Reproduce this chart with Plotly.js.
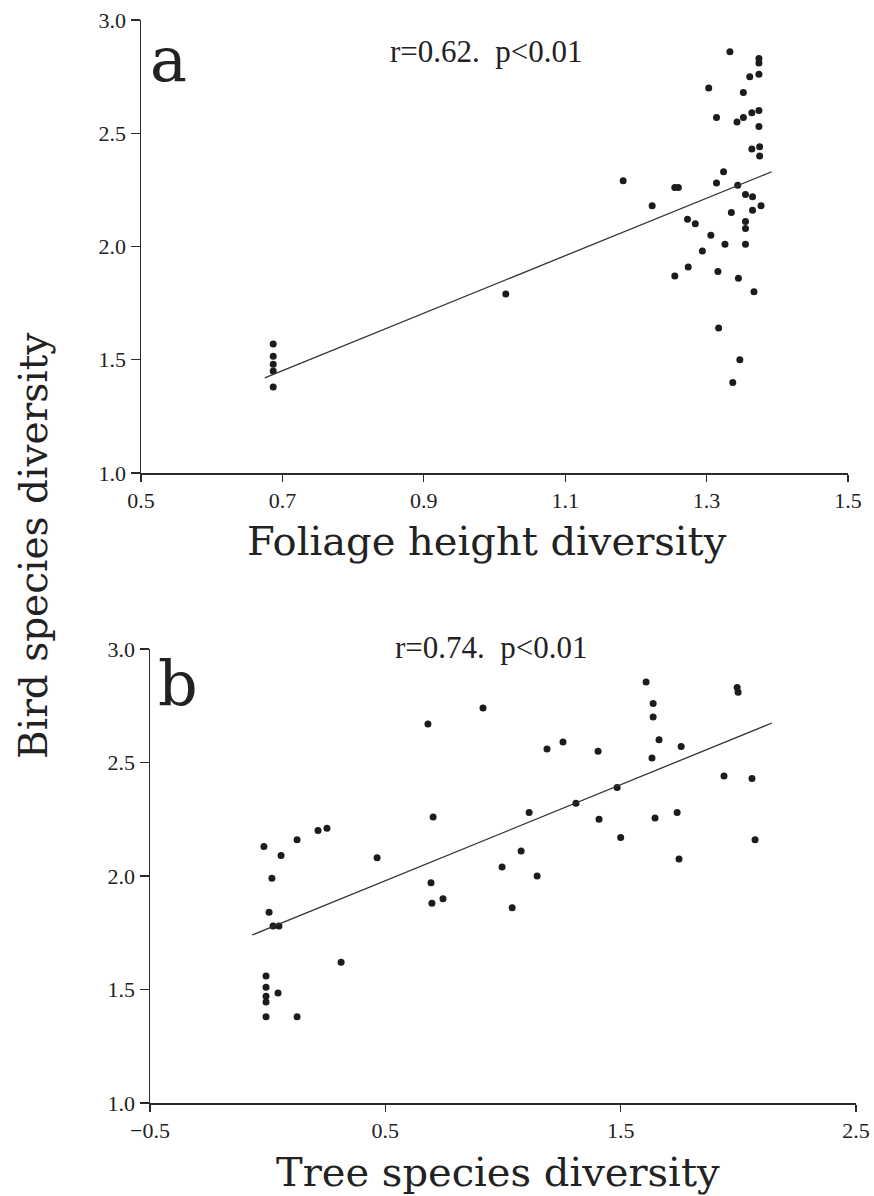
<!DOCTYPE html>
<html>
<head>
<meta charset="utf-8">
<script src="https://cdn.plot.ly/plotly-3.0.1.min.js"></script>
<style>
  html, body { margin: 0; padding: 0; background: #ffffff; }
  #chart { width: 874px; height: 1196px; }
</style>
</head>
<body>
<div id="chart"></div>
<script>
// (a) foliage height diversity vs bird species diversity
const foliageHeightDiv = [
  0.687, 0.687, 0.687, 0.687, 0.687,
  1.016,
  1.333,
  1.374, 1.374,
  1.361, 1.374,
  1.303,
  1.352,
  1.314,
  1.343, 1.352, 1.364, 1.374,
  1.374,
  1.364, 1.375, 1.375,
  1.182,
  1.324,
  1.255, 1.260,
  1.314,
  1.344,
  1.355, 1.365,
  1.223,
  1.377, 1.365,
  1.335,
  1.273, 1.284,
  1.355, 1.355,
  1.306,
  1.326,
  1.355,
  1.294,
  1.274,
  1.255,
  1.316,
  1.345,
  1.367,
  1.317,
  1.347,
  1.337
];
const birdDivA = [
  1.57, 1.515, 1.48, 1.45, 1.38,
  1.79,
  2.86,
  2.83, 2.81,
  2.75, 2.76,
  2.70,
  2.68,
  2.57,
  2.55, 2.57, 2.59, 2.60,
  2.53,
  2.43, 2.44, 2.40,
  2.29,
  2.33,
  2.26, 2.26,
  2.28,
  2.27,
  2.23, 2.22,
  2.18,
  2.18, 2.16,
  2.15,
  2.12, 2.10,
  2.11, 2.08,
  2.05,
  2.01,
  2.01,
  1.98,
  1.91,
  1.87,
  1.89,
  1.86,
  1.80,
  1.64,
  1.50,
  1.40
];
const fitAx = [0.675, 1.392];
const fitAy = [1.42, 2.33];

// (b) tree species diversity vs bird species diversity
const treeSpeciesDiv = [
  0.915, 0.681, 0.703, 1.111, -0.016, 0.057, 0.125, 0.214, 0.252, 0.465,
  0.018, 0.006, 0.023, 0.048, 0.694, 0.698, 0.745, 0.996, 1.077, 1.039,
  0.312, -0.007, -0.007, -0.007, -0.007, 0.044, -0.007, 0.125,
  1.608, 1.638, 1.638, 1.995, 1.999, 1.187, 1.255, 1.404, 1.663, 1.757,
  1.633, 1.485, 1.310, 1.939, 2.058, 1.408, 1.646, 1.740, 1.500, 2.071,
  1.748, 1.145
];
const birdDivB = [
  2.74, 2.67, 2.26, 2.28, 2.13, 2.09, 2.16, 2.20, 2.21, 2.08,
  1.99, 1.84, 1.78, 1.78, 1.97, 1.88, 1.90, 2.04, 2.11, 1.86,
  1.62, 1.56, 1.51, 1.47, 1.445, 1.485, 1.38, 1.38,
  2.855, 2.76, 2.70, 2.83, 2.81, 2.56, 2.59, 2.55, 2.60, 2.57,
  2.52, 2.39, 2.32, 2.44, 2.43, 2.25, 2.255, 2.28, 2.17, 2.16,
  2.075, 2.00
];
const fitBx = [-0.066, 2.143];
const fitBy = [1.74, 2.674];

// axis ticks
const yTicks = [1.0, 1.5, 2.0, 2.5, 3.0];
const yTickText = ['1.0', '1.5', '2.0', '2.5', '3.0'];
const xTicksA = [0.5, 0.7, 0.9, 1.1, 1.3, 1.5];
const xTickTextA = ['0.5', '0.7', '0.9', '1.1', '1.3', '1.5'];
const xTicksB = [-0.5, 0.5, 1.5, 2.5];
const xTickTextB = ['\u22120.5', '0.5', '1.5', '2.5'];

// labels
const panelLabels = ['a', 'b'];
const statTexts = ['r=0.62.  p<0.01', 'r=0.74.  p<0.01'];
const xTitles = ['Foliage height diversity', 'Tree species diversity'];
const yTitle = 'Bird species diversity';

const W = 874, H = 1196;
const px = v => v / W;
const py = v => 1 - v / H;

const ink = '#222222';
const tickFont = { family: 'Liberation Serif, serif', size: 22, color: ink };
const dotStyle = { size: 7, color: '#1c1c1c' };
const fitStyle = { color: '#333333', width: 1.3 };

const traces = [
  { x: foliageHeightDiv, y: birdDivA, xaxis: 'x', yaxis: 'y', type: 'scatter', mode: 'markers',
    marker: dotStyle, hoverinfo: 'x+y' },
  { x: fitAx, y: fitAy, xaxis: 'x', yaxis: 'y', type: 'scatter', mode: 'lines',
    line: fitStyle, hoverinfo: 'skip' },
  { x: treeSpeciesDiv, y: birdDivB, xaxis: 'x2', yaxis: 'y2', type: 'scatter', mode: 'markers',
    marker: dotStyle, hoverinfo: 'x+y' },
  { x: fitBx, y: fitBy, xaxis: 'x2', yaxis: 'y2', type: 'scatter', mode: 'lines',
    line: fitStyle, hoverinfo: 'skip' }
];

function axisBase(len) {
  return {
    showline: true, linecolor: '#2a2a2a', linewidth: 1.5,
    showgrid: false, zeroline: false,
    ticks: 'outside', ticklen: len, tickwidth: 1.3, tickcolor: '#2a2a2a',
    tickfont: tickFont, tickmode: 'array', fixedrange: true
  };
}

const layout = {
  width: W, height: H,
  margin: { l: 0, r: 0, t: 0, b: 0 },
  paper_bgcolor: '#ffffff', plot_bgcolor: '#ffffff',
  showlegend: false,
  xaxis: Object.assign(axisBase(7), {
    domain: [px(141), px(848)], range: [0.5, 1.5],
    tickvals: xTicksA, ticktext: xTickTextA, anchor: 'y'
  }),
  yaxis: Object.assign(axisBase(9), {
    domain: [py(473), py(20)], range: [1, 3],
    tickvals: yTicks, ticktext: yTickText, anchor: 'x'
  }),
  xaxis2: Object.assign(axisBase(7), {
    domain: [px(150), px(856)], range: [-0.5, 2.5],
    tickvals: xTicksB, ticktext: xTickTextB, anchor: 'y2'
  }),
  yaxis2: Object.assign(axisBase(9), {
    domain: [py(1103), py(649)], range: [1, 3],
    tickvals: yTicks, ticktext: yTickText, anchor: 'x2'
  }),
  annotations: [
    { text: panelLabels[0], xref: 'paper', yref: 'paper', x: px(168), y: py(60),
      xanchor: 'center', yanchor: 'middle', showarrow: false,
      font: { family: 'DejaVu Serif, serif', size: 62, color: ink } },
    { text: statTexts[0], xref: 'paper', yref: 'paper', x: px(486), y: py(52),
      xanchor: 'center', yanchor: 'middle', showarrow: false,
      font: { family: 'Liberation Serif, serif', size: 31, color: ink } },
    { text: panelLabels[1], xref: 'paper', yref: 'paper', x: px(178), y: py(684),
      xanchor: 'center', yanchor: 'middle', showarrow: false,
      font: { family: 'DejaVu Serif, serif', size: 62, color: ink } },
    { text: statTexts[1], xref: 'paper', yref: 'paper', x: px(492), y: py(647),
      xanchor: 'center', yanchor: 'middle', showarrow: false,
      font: { family: 'Liberation Serif, serif', size: 31, color: ink } },
    { text: xTitles[0], xref: 'paper', yref: 'paper', x: px(487), y: py(541),
      xanchor: 'center', yanchor: 'middle', showarrow: false,
      font: { family: 'DejaVu Serif, serif', size: 40, color: ink } },
    { text: xTitles[1], xref: 'paper', yref: 'paper', x: px(498), y: py(1172),
      xanchor: 'center', yanchor: 'middle', showarrow: false,
      font: { family: 'DejaVu Serif, serif', size: 40, color: ink } },
    { text: yTitle, xref: 'paper', yref: 'paper', x: px(33), y: py(546),
      xanchor: 'center', yanchor: 'middle', textangle: -90, showarrow: false,
      font: { family: 'DejaVu Serif, serif', size: 39, color: ink } }
  ]
};

Plotly.newPlot('chart', traces, layout, { displayModeBar: false, staticPlot: true });
</script>
</body>
</html>
